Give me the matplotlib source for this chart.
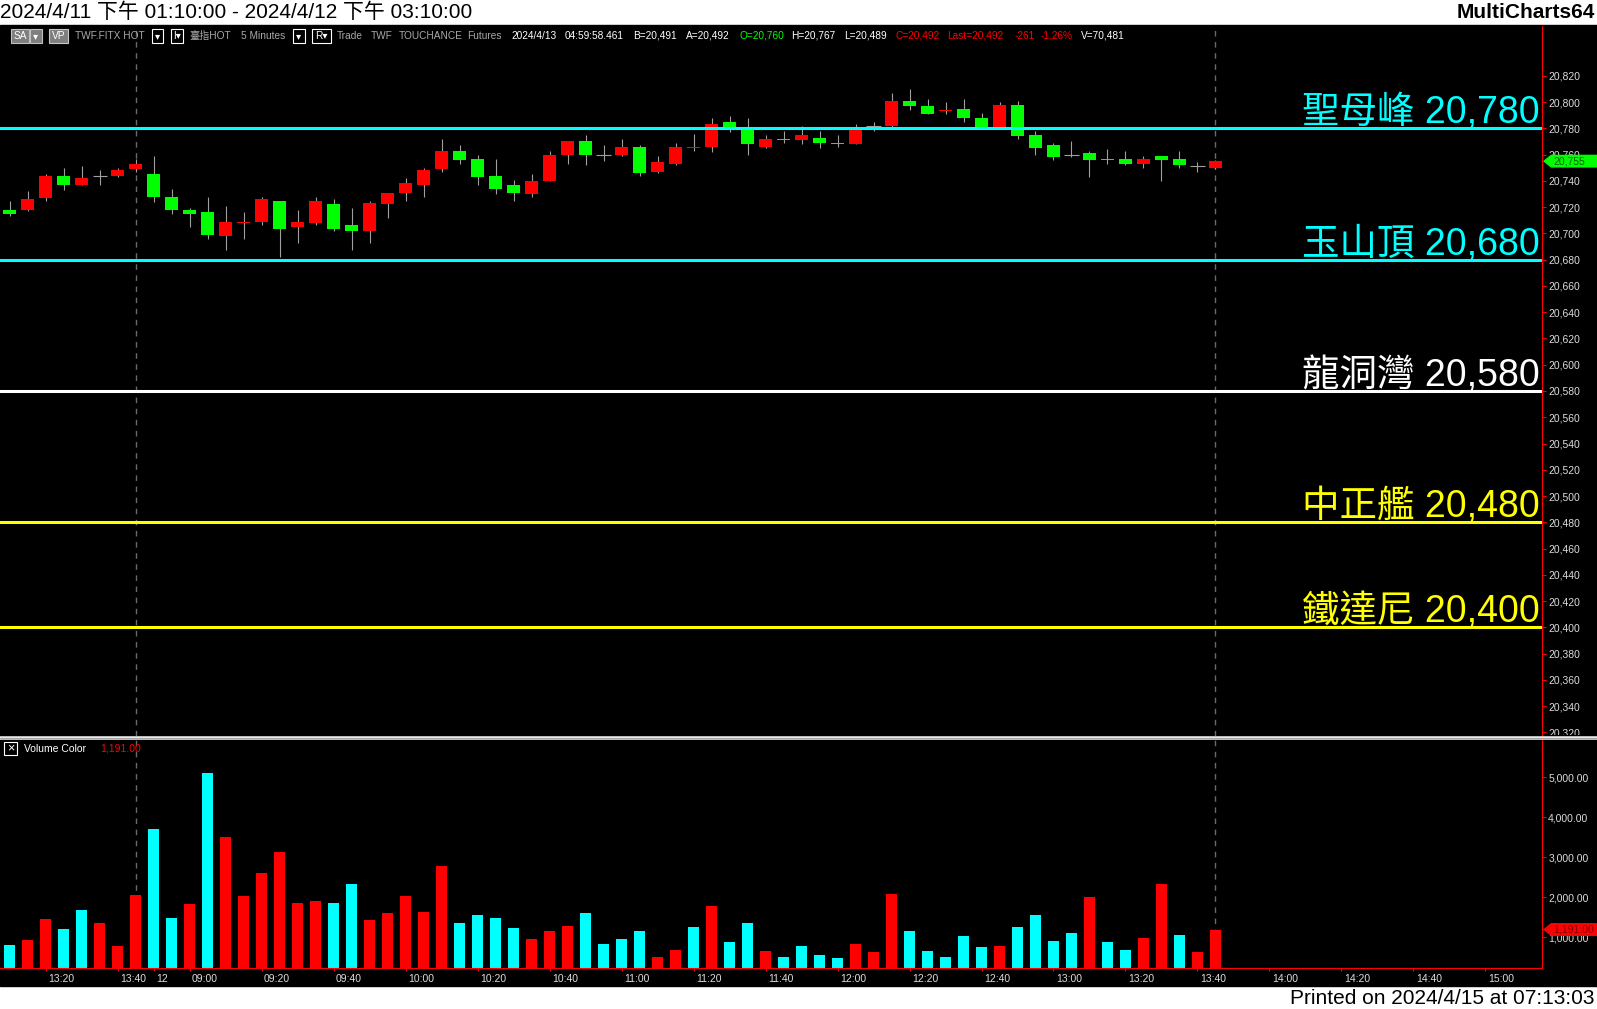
import matplotlib
matplotlib.use("Agg")
import matplotlib.pyplot as plt
from matplotlib.patches import Rectangle, Polygon
from matplotlib.lines import Line2D
from matplotlib.transforms import Bbox, TransformedBbox, ScaledTranslation

# 5-minute bars: 8 bars of 4/11 (13:10-13:45) then 60 bars of 4/12 (08:50-13:45)
opens = [20718, 20718, 20727, 20744, 20737, 20744, 20744, 20749, 20745, 20728,
         20718, 20716, 20698, 20708, 20709, 20725, 20705, 20708, 20722, 20706,
         20702, 20722, 20731, 20737, 20749, 20763, 20757, 20744, 20737, 20730,
         20740, 20760, 20770, 20760, 20760, 20766, 20747, 20753, 20765, 20766,
         20785, 20779, 20766, 20772, 20771, 20773, 20769, 20768, 20782, 20782,
         20801, 20797, 20793, 20795, 20788, 20781, 20798, 20775, 20767, 20760,
         20761, 20757, 20757, 20753, 20759, 20757, 20751, 20750]
highs = [20725, 20732, 20745, 20750, 20751, 20748, 20750, 20757, 20759, 20734,
         20719, 20728, 20721, 20716, 20728, 20725, 20718, 20728, 20726, 20719,
         20725, 20731, 20742, 20750, 20772, 20767, 20760, 20757, 20741, 20745,
         20763, 20770, 20775, 20767, 20772, 20767, 20759, 20769, 20776, 20788,
         20789, 20788, 20775, 20778, 20782, 20778, 20775, 20783, 20785, 20807,
         20810, 20802, 20800, 20802, 20792, 20800, 20801, 20778, 20769, 20770,
         20763, 20764, 20763, 20759, 20759, 20763, 20754, 20756]
lows = [20713, 20717, 20725, 20733, 20737, 20737, 20743, 20747, 20724, 20715,
        20705, 20696, 20687, 20696, 20706, 20682, 20693, 20706, 20702, 20687,
        20693, 20712, 20725, 20728, 20747, 20753, 20737, 20730, 20725, 20728,
        20740, 20753, 20752, 20755, 20759, 20744, 20746, 20752, 20763, 20762,
        20777, 20760, 20765, 20769, 20768, 20765, 20766, 20768, 20778, 20781,
        20794, 20791, 20791, 20785, 20781, 20780, 20772, 20760, 20756, 20758,
        20743, 20753, 20752, 20750, 20740, 20750, 20747, 20749]
closes = [20715, 20726, 20744, 20737, 20742, 20744, 20748, 20753, 20728, 20718,
          20715, 20699, 20709, 20709, 20726, 20703, 20709, 20725, 20703, 20702,
          20723, 20731, 20738, 20748, 20763, 20756, 20743, 20734, 20731, 20740,
          20760, 20770, 20760, 20760, 20766, 20746, 20754, 20766, 20766, 20783,
          20780, 20768, 20772, 20771, 20775, 20769, 20768, 20779, 20782, 20801,
          20797, 20791, 20794, 20788, 20781, 20798, 20774, 20765, 20758, 20760,
          20756, 20756, 20753, 20757, 20756, 20752, 20751, 20755]
volumes = [804, 929, 1453, 1203, 1678, 1353, 778, 2053, 3703, 1478,
           1828, 5103, 3503, 2028, 2603, 3128, 1853, 1903, 1853, 2328,
           1428, 1603, 2028, 1628, 2778, 1353, 1553, 1478, 1228, 953,
           1153, 1278, 1603, 828, 953, 1153, 503, 678, 1253, 1778,
           878, 1353, 653, 503, 778, 553, 478, 828, 628, 2078,
           1153, 653, 503, 1028, 753, 778, 1253, 1553, 903, 1103,
           2003, 878, 678, 978, 2328, 1053, 628, 1191]
# r = red volume bar, c = cyan volume bar
vol_side = list("crrccrrrccrcrrrrrrccrrrr" "rccccrrrccccrrcrccrcccc" "rrrcccccrccccrccrrcrr")

tick_idx = [2, 6, 8, 10, 14, 18, 22, 26, 30, 34, 38, 42, 46, 50, 54, 58, 62, 66, 70, 74, 78, 82]
tick_lbl = ["13:20", "13:40", "12", "09:00", "09:20", "09:40", "10:00", "10:20", "10:40",
            "11:00", "11:20", "11:40", "12:00", "12:20", "12:40", "13:00", "13:20", "13:40",
            "14:00", "14:20", "14:40", "15:00"]
session_breaks = [7, 67]

level_names = ["聖母峰", "玉山頂", "龍洞灣", "中正艦", "鐵達尼"]
level_vals = [20780, 20680, 20580, 20480, 20400]
level_cols = ["#00ffff", "#00ffff", "#ffffff", "#ffff00", "#ffff00"]

last_price = 20755
last_vol = 1191

RED, GREEN, CYAN, WICK = "#ff0000", "#00ff00", "#00ffff", "#a0a0a0"
FONT = ["Liberation Sans", "Noto Sans CJK TC", "DejaVu Sans"]
plt.rcParams["font.family"] = FONT

W, H = 1597, 1009
fig = plt.figure(figsize=(W / 100, H / 100), dpi=100)
fig.patch.set_facecolor("white")

def fx(x): return x / W
def fy(y): return 1 - y / H
def box(x0, y0, x1, y1): return [fx(x0), fy(y1), (x1 - x0) / W, (y1 - y0) / H]

fig.add_artist(Rectangle((0, fy(986)), 1, (986 - 25) / H, transform=fig.transFigure,
                         color="black", zorder=-5))

axp = fig.add_axes(box(0, 26, 1542, 736))
axv = fig.add_axes(box(0, 739, 1542, 968))
for ax in (axp, axv):
    ax.set_facecolor("black")
    for s in ax.spines.values():
        s.set_visible(False)
    ax.spines["right"].set_visible(True)
    ax.spines["right"].set_color(RED)
    ax.set_xlim(-0.53, 85.14)
    for b in session_breaks:
        ax.axvline(b, color="#6a6a6a", lw=1, ls=(0, (4, 4)), zorder=1)
axv.spines["bottom"].set_visible(True)
axv.spines["bottom"].set_color(RED)

# candles
x = list(range(len(closes)))
axp.vlines(x, lows, highs, color=WICK, lw=0.8, zorder=2)
for i, o, c in zip(x, opens, closes):
    if c == o:
        axp.hlines(c, i - 0.39, i + 0.39, color=WICK, lw=0.8, zorder=3)
    else:
        axp.bar(i, abs(c - o), bottom=min(o, c), width=0.72,
                color=RED if c > o else GREEN, lw=0, zorder=3)

for name, v, col in zip(level_names, level_vals, level_cols):
    axp.axhline(v, color=col, lw=2.2, zorder=4)
    axp.text(0.9987, v + 3.8, f"{name} {v:,}", transform=axp.get_yaxis_transform(),
             ha="right", va="baseline", fontsize=27, color=col, zorder=5)

axp.set_ylim(20317.3, 20857.9)
axp.set_xticks([])
axp.yaxis.tick_right()
pt = list(range(20320, 20821, 20))
axp.set_yticks(pt, [f"{v:,}" for v in pt])
axp.tick_params(axis="y", colors=RED, labelcolor="#dcdcdc", length=3, pad=1.5, labelsize=7.5)
# the lowest price label is cut by the pane separator
clip = TransformedBbox(Bbox([[fx(1542), fy(735)], [1, fy(26)]]), fig.transFigure)
for lab in axp.get_yticklabels():
    lab.set_clip_box(clip)
    lab.set_clip_on(True)

# volume
axv.bar(x, volumes, width=0.61, color=[RED if s == "r" else CYAN for s in vol_side], lw=0, zorder=2)
axv.set_ylim(229, 5953)
axv.yaxis.tick_right()
vt = [1000, 2000, 3000, 4000, 5000]
axv.set_yticks(vt, [f"{v:,.2f}" for v in vt])
axv.tick_params(axis="y", colors=RED, labelcolor="#dcdcdc", length=3, pad=1.5, labelsize=7.5)
axv.set_xticks(tick_idx, tick_lbl)
axv.tick_params(axis="x", colors=RED, labelcolor="#dcdcdc", length=2.5, pad=1.5, labelsize=7.5)
shift = ScaledTranslation(2.5 / 100, 0, fig.dpi_scale_trans)
for lab in axv.get_xticklabels():
    lab.set_ha("left")
    lab.set_transform(lab.get_transform() + shift)

# last value markers on the right scales
def marker(ax, y, half, face, txt, tcol):
    tr = ax.get_yaxis_transform()
    xa = lambda px: px / 1542
    ax.add_patch(Polygon([(xa(1543), y), (xa(1551), y + half), (xa(1597), y + half),
                          (xa(1597), y - half), (xa(1551), y - half)], closed=True,
                         transform=tr, clip_on=False, facecolor=face, edgecolor="none", zorder=6))
    ax.text(xa(1553), y, txt, transform=tr, ha="left", va="center", fontsize=7.5,
            color=tcol, clip_on=False, zorder=7)

marker(axp, last_price, 4.9, GREEN, f"{last_price:,}", "#0a5a0a")
marker(axv, last_vol, 162, RED, f"{last_vol:,.2f}", "#7a0000")

# pane separator
fig.add_artist(Line2D([0, 1], [fy(737.5)] * 2, transform=fig.transFigure, color="#e8e8e8", lw=2.6, zorder=10))
fig.add_artist(Line2D([0, 1], [fy(737.5)] * 2, transform=fig.transFigure, color="#8a8a8a", lw=0.5, zorder=11))

# volume pane caption
fig.add_artist(Rectangle((fx(4), fy(755)), 13 / W, 13 / H, transform=fig.transFigure,
                         facecolor="black", edgecolor="white", lw=0.8, zorder=8))
fig.text(fx(10.5), fy(748.5), "×", color="white", fontsize=9, ha="center", va="center", zorder=9)
fig.text(fx(24), fy(748.5), "Volume Color", color="white", fontsize=7.5, va="center")
fig.text(fx(100), fy(748.5), f"{last_vol:,.2f}", color=RED, fontsize=7.5, va="center")

# header / footer
fig.text(0, fy(12.5), "2024/4/11 下午 01:10:00 - 2024/4/12 下午 03:10:00", fontsize=15, va="center")
fig.text(fx(1595), fy(12.5), "MultiCharts64", fontsize=15, fontweight="bold", ha="right", va="center")
fig.text(fx(1595), fy(998), "Printed on 2024/4/15 at 07:13:03", fontsize=15, ha="right", va="center")

# toolbar row
TY = fy(36)
for x0, x1, s, face, edge in [(11, 29, "SA", "#7f7f7f", "#c0c0c0"), (30, 42, "▾", "#7f7f7f", "#c0c0c0"),
                              (49, 68, "VP", "#7f7f7f", "#c8c8c8"), (152, 163, "▾", "black", "white"),
                              (171, 183, "I▾", "black", "white"), (293, 305, "▾", "black", "white"),
                              (312, 331, "R▾", "black", "white")]:
    fig.add_artist(Rectangle((fx(x0), fy(43)), (x1 - x0) / W, 14 / H, transform=fig.transFigure,
                             facecolor=face, edgecolor=edge, lw=0.8, zorder=8))
    fig.text(fx((x0 + x1) / 2), TY, s, color="white", fontsize=7.3, ha="center", va="center", zorder=9)

GRAY, WHITE = "#a8a8a8", "#ffffff"
for xp, s, col in [(75, "TWF.FITX HOT", GRAY), (189, "臺指HOT", GRAY), (241, "5 Minutes", GRAY),
                   (337, "Trade", GRAY), (371, "TWF", GRAY), (399, "TOUCHANCE", GRAY), (467, "Futures", GRAY),
                   (511, "2024/4/13", WHITE), (565, "04:59:58.461", WHITE), (633, "B=20,491", WHITE),
                   (686, "A=20,492", WHITE), (739, "O=20,760", GREEN), (791, "H=20,767", WHITE),
                   (844, "L=20,489", WHITE), (896, "C=20,492", RED), (947, "Last=20,492", RED),
                   (1015, "-261", RED), (1041, "-1.26%", RED), (1081, "V=70,481", WHITE)]:
    fig.text(fx(xp), TY, s, color=col, fontsize=7.3, ha="left", va="center", zorder=9)

fig.savefig("out.png", dpi=100, facecolor="white")
